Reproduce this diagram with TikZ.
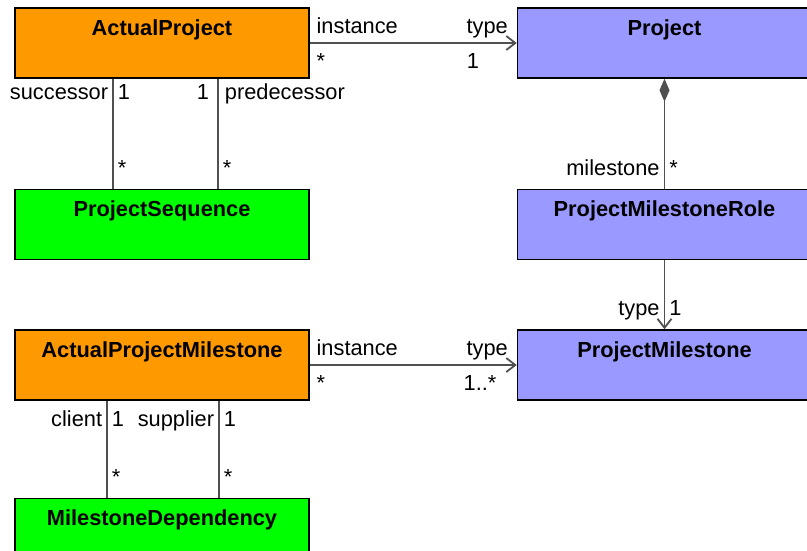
\documentclass[tikz,border=0pt]{standalone}
\usepackage{fontspec}
\setmainfont{Liberation Sans}
\usetikzlibrary{arrows.meta, positioning}
\definecolor{actualorange}{RGB}{255, 153, 0}
\definecolor{typeblue}{RGB}{153, 153, 255}
\definecolor{linkgreen}{RGB}{0, 255, 0}
\definecolor{linegray}{RGB}{80, 80, 80}

\begin{document}
\begin{tikzpicture}[
  x = 1pt, y = 1pt,
  node distance = 110pt and 207pt,
  every node/.style = {font=\fontsize{21.8}{26}\selectfont},
  cls/.style       = {draw=black, line width=1.5pt, minimum width=294pt,
                      minimum height=70pt, inner ysep=4pt, text height=23pt,
                      text depth=39pt, font=\fontsize{21.8}{26}\selectfont\bfseries},
  actualcls/.style = {cls, fill=actualorange},
  typecls/.style   = {cls, fill=typeblue},
  linkcls/.style   = {cls, fill=linkgreen},
  assoc/.style     = {draw=linegray, line width=1.8pt},
  typeof/.style    = {assoc, -{Straight Barb[length=9pt, width=14pt]}},
  compos/.style    = {assoc, {Diamond[length=23pt, width=10pt, fill=linegray]}-},
  rolelabel/.style = {inner sep=4pt, text height=16pt, text depth=5pt}
]
\useasboundingbox (0,0) rectangle (807,-550);

% Classes
\node[actualcls] (ap) at (162,-43) {ActualProject};
\node[typecls,  right=of ap]         (proj)   {Project};
\node[linkcls,  below=of ap]         (seq)    {ProjectSequence};
\node[typecls,  below=of proj]       (pmrole) {ProjectMilestoneRole};
\node[actualcls, below=69pt of seq]  (apm)    {ActualProjectMilestone};
\node[typecls,  below=69pt of pmrole] (pm)    {ProjectMilestone};
\node[linkcls,  below=97pt of apm]   (dep)    {MilestoneDependency};

% Instance / type
\draw[typeof] (ap.east) -- (proj.west)
  node[pos=0, anchor=south west, rolelabel, xshift=2pt] {instance}
  node[pos=0, anchor=north west, rolelabel, xshift=2pt, yshift=-5pt] {*}
  node[pos=1, anchor=south east, rolelabel, xshift=-4pt] {type}
  node[pos=0.735, anchor=north west, rolelabel, yshift=-5pt] {1};

\draw[typeof] (apm.east) -- (pm.west)
  node[pos=0, anchor=south west, rolelabel, xshift=2pt] {instance}
  node[pos=0, anchor=north west, rolelabel, xshift=2pt, yshift=-5pt] {*}
  node[pos=1, anchor=south east, rolelabel, xshift=-4pt] {type}
  node[pos=0.72, anchor=north west, rolelabel, yshift=-5pt] {1..*};

% Sequence
\draw[assoc] ([xshift=-49pt]ap.south) -- ([xshift=-49pt]seq.north)
  node[pos=0, anchor=north east, rolelabel] {successor}
  node[pos=0, anchor=north west, rolelabel] {1}
  node[pos=1, anchor=south west, rolelabel, yshift=3pt] {*};
\draw[assoc] ([xshift=56pt]ap.south) -- ([xshift=56pt]seq.north)
  node[pos=0, anchor=north east, rolelabel, xshift=-4pt] {1}
  node[pos=0, anchor=north west, rolelabel, xshift=2pt] {predecessor}
  node[pos=1, anchor=south west, rolelabel, yshift=3pt] {*};

% Milestones of a project
\draw[compos] (proj.south) -- (pmrole.north)
  node[pos=1, anchor=south east, rolelabel, yshift=3pt] {milestone}
  node[pos=1, anchor=south west, rolelabel, yshift=3pt] {*};
\draw[typeof] (pmrole.south) -- (pm.north)
  node[pos=1, anchor=south east, rolelabel, yshift=4pt] {type}
  node[pos=1, anchor=south west, rolelabel, yshift=4pt] {1};

% Dependency
\draw[assoc] ([xshift=-55pt]apm.south) -- ([xshift=-55pt]dep.north)
  node[pos=0, anchor=north east, rolelabel, yshift=-5pt] {client}
  node[pos=0, anchor=north west, rolelabel, yshift=-5pt] {1}
  node[pos=1, anchor=south west, rolelabel, yshift=3pt] {*};
\draw[assoc] ([xshift=57pt]apm.south) -- ([xshift=57pt]dep.north)
  node[pos=0, anchor=north east, rolelabel, yshift=-5pt] {supplier}
  node[pos=0, anchor=north west, rolelabel, yshift=-5pt] {1}
  node[pos=1, anchor=south west, rolelabel, yshift=3pt] {*};

\end{tikzpicture}
\end{document}
